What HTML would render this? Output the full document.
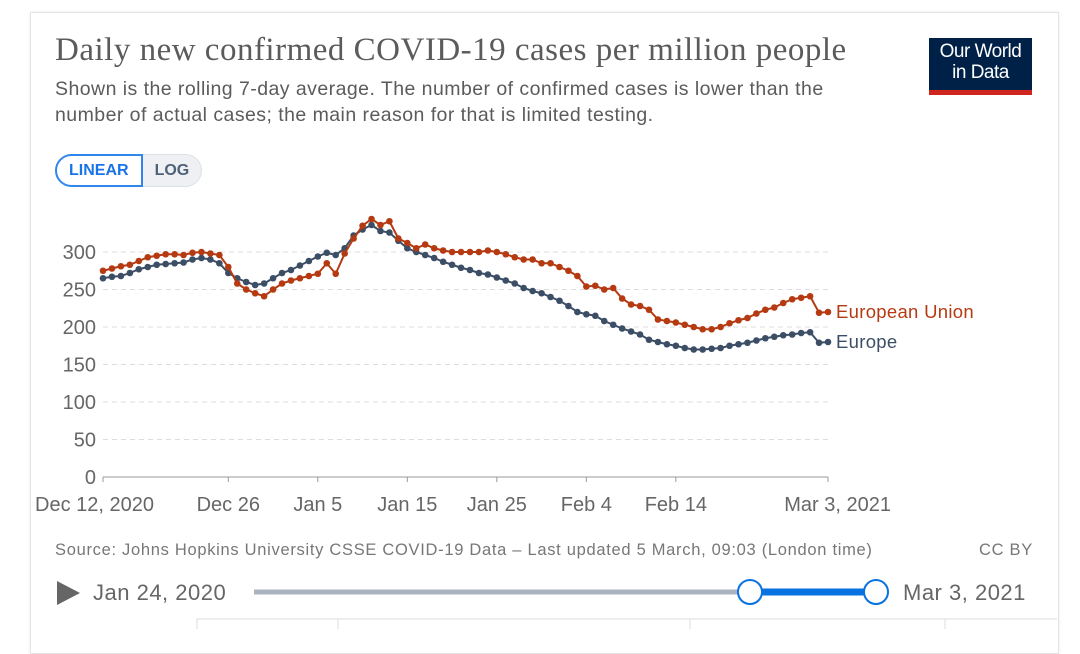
<!DOCTYPE html>
<html><head><meta charset="utf-8">
<style>
html,body{margin:0;padding:0;background:#fff;}
body{width:1080px;height:629px;overflow:hidden;position:relative;font-family:"Liberation Sans",sans-serif;}
.card{position:absolute;left:30px;top:12px;width:1027px;height:640px;border:1px solid #e4e4e4;box-shadow:0 0 3px rgba(0,0,0,0.08);background:#fff;}
.title{position:absolute;left:55px;top:32px;font-family:"Liberation Serif",serif;font-size:33px;color:#5b5b5b;white-space:nowrap;letter-spacing:0.5px;}
.sub{position:absolute;left:55px;top:76px;font-size:19.5px;letter-spacing:0.45px;line-height:26px;color:#5b5b5b;width:790px;}
.logo{position:absolute;left:929px;top:38px;width:103px;height:57px;background:#002147;color:#fff;font-size:19px;line-height:21px;text-align:center;padding-top:3px;box-sizing:border-box;letter-spacing:-0.5px;}
.logo .bar{position:absolute;left:0;bottom:0;width:100%;height:5px;background:#ce261e;}
.btns{position:absolute;left:55px;top:154px;height:33px;display:flex;}
.btn{font-size:16px;font-weight:bold;line-height:29px;padding:0 12px;box-sizing:border-box;height:33px;}
.lin{color:#1a73e8;border:2px solid #2f86eb;border-radius:17px 0 0 17px;background:#fff;}
.log{color:#4e6178;background:#eef0f3;border:1px solid #dde0e5;border-left:none;border-radius:0 17px 17px 0;line-height:31px;}
.src{position:absolute;left:55px;top:541px;font-size:16.5px;letter-spacing:0.7px;color:#777;white-space:nowrap;}
.cc{position:absolute;left:979px;top:541px;font-size:16.5px;letter-spacing:0.7px;color:#777;}
svg{position:absolute;left:0;top:0;}
</style></head><body>
<div class="card"></div>
<div class="title">Daily new confirmed COVID-19 cases per million people</div>
<div class="sub">Shown is the rolling 7-day average. The number of confirmed cases is lower than the number of actual cases; the main reason for that is limited testing.</div>
<div class="logo">Our World<br>in Data<div class="bar"></div></div>
<div class="btns">
<div class="btn lin">LINEAR</div>
<div class="btn log">LOG</div>
</div>
<div class="src">Source: Johns Hopkins University CSSE COVID-19 Data – Last updated 5 March, 09:03 (London time)</div>
<div class="cc">CC BY</div>
<svg id="chart" width="1080" height="629"></svg>
<script>
const yTicks=[0,50,100,150,200,250,300];
const xTickLabels=["Dec 12, 2020","Dec 26","Jan 5","Jan 15","Jan 25","Feb 4","Feb 14","Mar 3, 2021"];
const xTickDays=[0,14,24,34,44,54,64,81];
const seriesNames=["European Union","Europe"];
const euValues=[275,278,281,283,288,293,295,297,297,296,299,300,298,296,280,258,250,245,241,250,258,262,265,268,271,285,271,298,318,335,344,336,341,318,312,305,310,305,302,300,300,300,300,302,300,297,293,290,290,285,285,280,275,268,254,255,250,252,238,230,228,223,210,208,206,203,200,197,197,200,205,209,212,218,223,226,232,237,239,241,219,220];
const europeValues=[265,267,268,272,277,280,283,284,285,286,290,292,290,285,272,265,260,256,258,265,272,276,282,288,294,299,296,305,322,330,336,328,326,315,305,300,296,292,287,283,279,276,272,270,266,262,258,252,248,245,240,235,228,220,217,215,208,203,198,194,190,183,180,177,175,172,170,170,171,172,175,177,179,182,185,187,189,190,192,193,179,180];
const svg=document.getElementById('chart');const NS='http://www.w3.org/2000/svg';
const x0=103,x1=828,nDays=81,yBase=477,yScale=0.75;
function X(d){return x0+(x1-x0)*d/nDays;}
function Y(v){return yBase-v*yScale;}
function mk(t,a){const e=document.createElementNS(NS,t);for(const k in a)e.setAttribute(k,a[k]);svg.appendChild(e);return e;}
yTicks.forEach(v=>{
 const l=mk('line',{x1:103,x2:828,y1:Y(v),y2:Y(v),stroke:v===0?'#999':'#ddd','stroke-width':1,'stroke-dasharray':v===0?'':'5,4'});
 
 
 const t=mk('text',{x:96,y:Y(v)+7,'text-anchor':'end','font-size':20,fill:'#666','font-family':'Liberation Sans, sans-serif'});t.textContent=v;
 
 
});
xTickLabels.forEach((s,i)=>{
 const d=xTickDays[i];
 let anchor='middle';if(i===0)anchor='start';if(i===xTickLabels.length-1)anchor='end';
 let x=X(d);if(i===0)x=35;if(i===xTickLabels.length-1)x=891;
 const t=mk('text',{x:x,y:511,'text-anchor':anchor,'font-size':20,fill:'#666','font-family':'Liberation Sans, sans-serif'});t.textContent=s;
 
 
 const tk=mk('line',{x1:X(d),x2:X(d),y1:477,y2:482,stroke:'#999'});
 
 
});
function drawSeries(vals,color,name,labelText){
 const pts=vals.map((v,i)=>X(i)+','+Y(v)).join(' ');
 const p=mk('polyline',{points:pts,fill:'none',stroke:color,'stroke-width':2});
 
 
 vals.forEach((v,i)=>{const c=mk('circle',{cx:X(i),cy:Y(v),r:3.3,fill:color});
  
  });
 const t=mk('text',{x:836,y:Y(vals[vals.length-1])+6,'font-size':18.5,fill:color,'font-family':'Liberation Sans, sans-serif','letter-spacing':0.3});t.textContent=labelText;
 
 
}
drawSeries(europeValues,'#3c4e66','europe',seriesNames[1]);
drawSeries(euValues,'#b53a11','european-union',seriesNames[0]);
let e;
e=mk('polygon',{points:'57,581 57,605 80,593',fill:'#666'});


e=mk('text',{x:93,y:600,'font-size':22,fill:'#666','font-family':'Liberation Sans, sans-serif','letter-spacing':0.5});e.textContent='Jan 24, 2020';


e=mk('line',{x1:254,x2:750,y1:592,y2:592,stroke:'#aab3bf','stroke-width':5});


e=mk('line',{x1:750,x2:876,y1:592,y2:592,stroke:'#0a72e0','stroke-width':7});


[750,876].forEach((cx,i)=>{e=mk('circle',{cx:cx,cy:592,r:12,fill:'#fff',stroke:'#0a72e0','stroke-width':2});
 
 });
e=mk('text',{x:903,y:600,'font-size':22,fill:'#666','font-family':'Liberation Sans, sans-serif','letter-spacing':0.5});e.textContent='Mar 3, 2021';


e=mk('path',{d:'M197,629 V619 H1057 M338,619 V629 M690,619 V629 M945,619 V629',fill:'none',stroke:'#ddd','stroke-width':1});


</script>
</body></html>
